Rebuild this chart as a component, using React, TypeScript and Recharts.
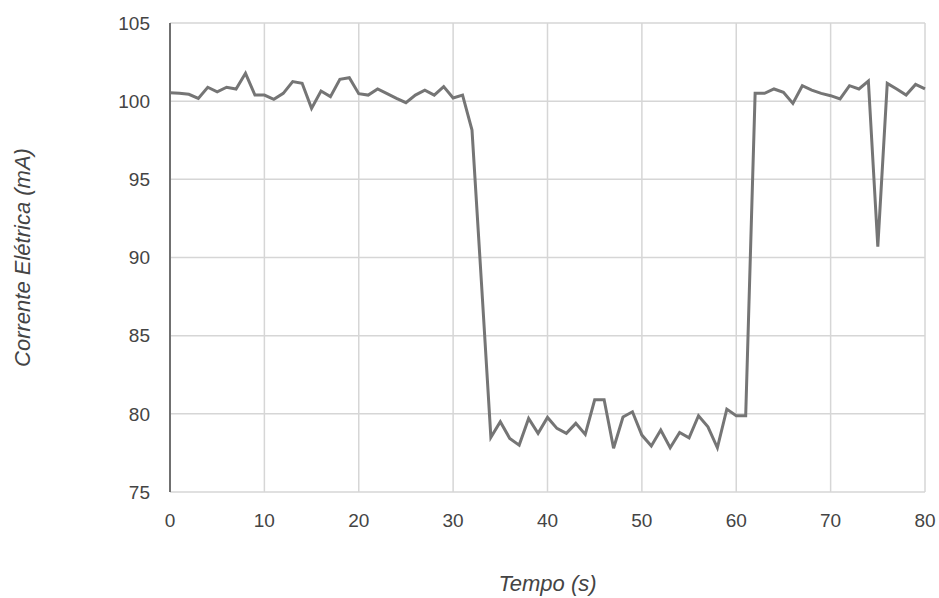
import React from 'react';
import { LineChart, Line, XAxis, YAxis, CartesianGrid } from 'recharts';

// Tempo (s), one reading per second
const tempo = [
  0, 1, 2, 3, 4, 5, 6, 7, 8, 9, 10, 11, 12, 13, 14, 15, 16, 17, 18, 19, 20,
  21, 22, 23, 24, 25, 26, 27, 28, 29, 30, 31, 32, 33, 34, 35, 36, 37, 38, 39, 40,
  41, 42, 43, 44, 45, 46, 47, 48, 49, 50, 51, 52, 53, 54, 55, 56, 57, 58, 59, 60,
  61, 62, 63, 64, 65, 66, 67, 68, 69, 70, 71, 72, 73, 74, 75, 76, 77, 78, 79, 80,
];

// Corrente Elétrica (mA)
const corrente = [
  100.54, 100.5, 100.44, 100.18, 100.89, 100.6, 100.89, 100.78, 101.78, 100.39, 100.39,
  100.12, 100.5, 101.25, 101.14, 99.54, 100.65, 100.29, 101.4, 101.5, 100.48,
  100.39, 100.78, 100.48, 100.18, 99.9, 100.39, 100.7, 100.39, 100.93, 100.2,
  100.39, 98.15, 88.4, 78.5, 79.5, 78.43, 78.0, 79.7, 78.75, 79.77,
  79.07, 78.75, 79.39, 78.68, 80.9, 80.9, 77.8, 79.8, 80.13, 78.64,
  77.94, 78.96, 77.83, 78.81, 78.47, 79.88, 79.17, 77.83, 80.3, 79.88,
  79.88, 100.5, 100.5, 100.78, 100.57, 99.86, 100.99, 100.71, 100.5, 100.35,
  100.14, 100.99, 100.78, 101.29, 90.69, 101.14, 100.78, 100.39, 101.07, 100.78,
];

const xTicks = [0, 10, 20, 30, 40, 50, 60, 70, 80];
const yTicks = [75, 80, 85, 90, 95, 100, 105];

const data = tempo.map((t, i) => ({ t, v: corrente[i] }));

const font = "'Liberation Sans', Arial, sans-serif";

const YTitle = (props: any) => {
  const vb = props.viewBox;
  const cy = vb.y + vb.height / 2;
  return (
    <text
      x={22}
      y={cy}
      transform={`rotate(-90, 22, ${cy})`}
      textAnchor="middle"
      dominantBaseline="central"
      fontFamily={font}
      fontStyle="italic"
      fontSize={22}
      fill="#444"
    >
      Corrente Elétrica (mA)
    </text>
  );
};

const XTitle = (props: any) => {
  const vb = props.viewBox;
  const cx = vb.x + vb.width / 2;
  return (
    <text
      x={cx}
      y={583}
      textAnchor="middle"
      dominantBaseline="central"
      fontFamily={font}
      fontStyle="italic"
      fontSize={22}
      fill="#444"
    >
      Tempo (s)
    </text>
  );
};

export default function App() {
  return (
    <div style={{ position: 'absolute', left: 0, top: 0, width: 939, height: 598, background: '#fff' }}>
      <LineChart
        width={939}
        height={598}
        data={data}
        margin={{ top: 23, right: 14, bottom: 0, left: 0 }}
        style={{ overflow: 'visible' }}
      >
        <CartesianGrid stroke="#d6d6d6" strokeWidth={1.5} />
        <XAxis
          dataKey="t"
          type="number"
          domain={[0, 80]}
          ticks={xTicks}
          height={106}
          axisLine={false}
          tickLine={false}
          tickSize={0}
          tickMargin={22}
          tick={{ fill: '#444', fontSize: 19, fontFamily: font }}
          label={{ content: XTitle }}
        />
        <YAxis
          type="number"
          domain={[75, 105]}
          ticks={yTicks}
          width={170}
          axisLine={{ stroke: '#707070', strokeWidth: 2 }}
          tickLine={false}
          tickSize={0}
          tickMargin={20}
          tick={{ fill: '#444', fontSize: 19, fontFamily: font }}
          label={{ content: YTitle }}
        />
        <Line
          type="linear"
          dataKey="v"
          stroke="#757575"
          strokeWidth={3}
          dot={false}
          isAnimationActive={false}
        />
      </LineChart>
    </div>
  );
}
